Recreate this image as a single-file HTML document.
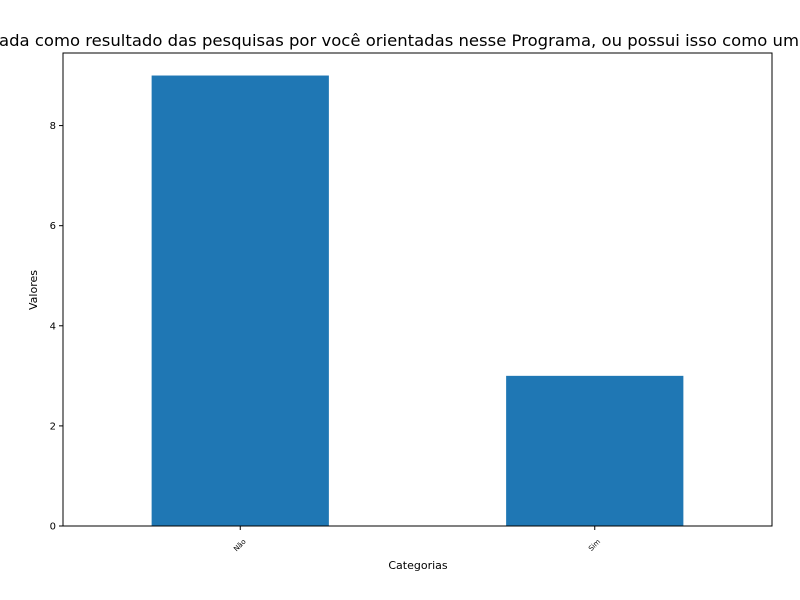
<!DOCTYPE html>
<html><head><meta charset="utf-8"><style>body{margin:0;background:#fff}svg{display:block;font-family:"DejaVu Sans","Liberation Sans",sans-serif}</style></head>
<body>
<svg id="chart" width="800" height="600">
<text x="-1" y="46" font-size="16" textLength="800" lengthAdjust="spacingAndGlyphs">ada como resultado das pesquisas por você orientadas nesse Programa, ou possui isso como um</text>
<g id="plot"></g>
<text x="418" y="569" font-size="11" text-anchor="middle">Categorias</text>
<text transform="translate(37,290) rotate(-90)" font-size="11" text-anchor="middle">Valores</text>
</svg>
<script>
const categories = ["Não", "Sim"];
const values = [9, 3];
const yTicks = [0, 2, 4, 6, 8];
const L = 63, R = 772, T = 53, B = 526;
const ns = "http://www.w3.org/2000/svg";
const g = document.getElementById("plot");
const xs = i => L + (i + 0.5) * (R - L) / categories.length;
const ymax = 9.45;
const ys = v => B - v / ymax * (B - T);
function el(tag, attrs) { const e = document.createElementNS(ns, tag); for (const k in attrs) e.setAttribute(k, attrs[k]); g.appendChild(e); return e; }
const bw = 0.5 * (R - L) / categories.length;
categories.forEach((c, i) => {
  const b = el("rect", {x: xs(i) - bw / 2, y: ys(values[i]), width: bw, height: ys(0) - ys(values[i]), fill: "#1f77b4"});
  
  
  const t = el("line", {x1: xs(i), x2: xs(i), y1: B, y2: B + 4, stroke: "#000"});
  
  
  const lb = el("text", {x: 0, y: 0, "font-size": 7, "text-anchor": "end", transform: `translate(${xs(i) + 6},${B + 16}) rotate(-45)`});
  lb.textContent = c;
  
  
});
yTicks.forEach(v => {
  const t = el("line", {x1: L - 4, x2: L, y1: ys(v), y2: ys(v), stroke: "#000"});
  
  
  const lb = el("text", {x: L - 7, y: ys(v) + 3.5, "font-size": 10, "text-anchor": "end"});
  lb.textContent = v;
  
  
});
const f = el("rect", {x: L, y: T, width: R - L, height: B - T, fill: "none", stroke: "#000", "stroke-width": 1});


</script>
</body></html>
